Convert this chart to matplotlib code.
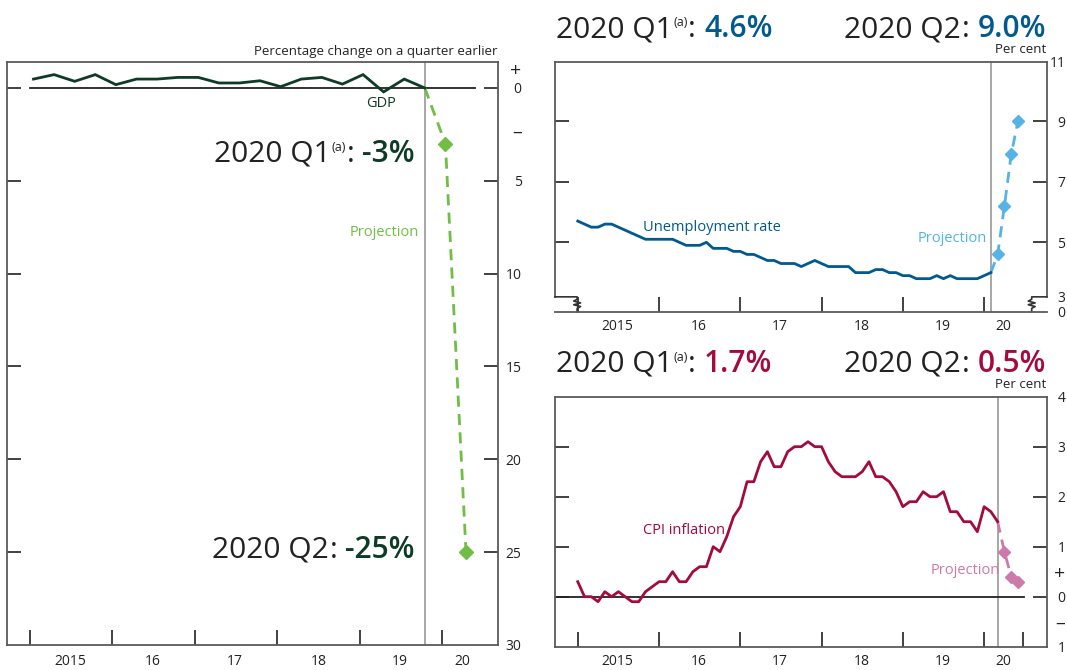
import matplotlib
matplotlib.use("Agg")
import matplotlib.pyplot as plt
import matplotlib.transforms as mtransforms
import numpy as np

plt.rcParams['font.family'] = ['Open Sans', 'DejaVu Sans']

# ---------------- data ----------------
gdp_quarters = [f'{y} Q{q}' for y in range(2015, 2020) for q in range(1, 5)]
gdp_growth = [0.48, 0.72, 0.36, 0.72, 0.18, 0.48, 0.48, 0.57, 0.57, 0.27,
              0.27, 0.39, 0.07, 0.48, 0.57, 0.21, 0.72, -0.21, 0.48, 0.0]
gdp_proj_quarters = ['2020 Q1', '2020 Q2']
gdp_proj = [-3.0, -25.0]

unemp_months = [f'{y}-{m:02d}' for y in range(2015, 2021) for m in range(1, 13)][:62]
unemp_rate = [5.7, 5.6, 5.5, 5.5, 5.6, 5.6, 5.5, 5.4, 5.3, 5.2, 5.1, 5.1,
              5.1, 5.1, 5.1, 5.0, 4.9, 4.9, 4.9, 5.0, 4.8, 4.8, 4.8, 4.7,
              4.7, 4.6, 4.6, 4.5, 4.4, 4.4, 4.3, 4.3, 4.3, 4.2, 4.3, 4.4,
              4.3, 4.2, 4.2, 4.2, 4.2, 4.0, 4.0, 4.0, 4.1, 4.1, 4.0, 4.0,
              3.9, 3.9, 3.8, 3.8, 3.8, 3.9, 3.8, 3.9, 3.8, 3.8, 3.8, 3.8,
              3.9, 4.0]
unemp_proj_months = ['2020-03', '2020-04', '2020-05', '2020-06']
unemp_proj = [4.6, 6.2, 7.9, 9.0]

cpi_months = [f'{y}-{m:02d}' for y in range(2015, 2021) for m in range(1, 13)][:63]
cpi_rate = [0.3, 0.0, 0.0, -0.1, 0.1, 0.0, 0.1, 0.0, -0.1, -0.1, 0.1, 0.2,
            0.3, 0.3, 0.5, 0.3, 0.3, 0.5, 0.6, 0.6, 1.0, 0.9, 1.2, 1.6,
            1.8, 2.3, 2.3, 2.7, 2.9, 2.6, 2.6, 2.9, 3.0, 3.0, 3.1, 3.0,
            3.0, 2.7, 2.5, 2.4, 2.4, 2.4, 2.5, 2.7, 2.4, 2.4, 2.3, 2.1,
            1.8, 1.9, 1.9, 2.1, 2.0, 2.0, 2.1, 1.7, 1.7, 1.5, 1.5, 1.3,
            1.8, 1.7, 1.5]
cpi_proj_months = ['2020-04', '2020-05', '2020-06']
cpi_proj = [0.9, 0.4, 0.3]

year_labels = ['2015', '16', '17', '18', '19', '20']


def qpos(labels):
    out = []
    for s in labels:
        y, q = s.split(' Q')
        out.append(int(y) + (int(q) - 1) / 4 + 1 / 24)
    return np.array(out)


def mpos(labels):
    out = []
    for s in labels:
        y, m = s.split('-')
        out.append(int(y) + (int(m) - 1) / 12)
    return np.array(out)


# ---------------- styling ----------------
C_TEXT = '#222222'
C_SPINE = '#5a5a5a'
C_TICK = '#333333'
C_VLINE = '#a0a0a0'
GDP_C = '#0d3b25'
GDP_P = '#72bd45'
UN_C = '#005a8f'
UN_P = '#55b3e5'
CPI_C = '#a50a3e'
CPI_P = '#cc7aa9'

W, H = 1067, 670
fig = plt.figure(figsize=(W / 100, H / 100), dpi=100)


def px_axes(x0, y0, x1, y1):
    return fig.add_axes([x0 / W, 1 - y1 / H, (x1 - x0) / W, (y1 - y0) / H])


def style_axes(ax, xlim, ylim, yticks, ylabels, hidden_ticks, lab_pos, ypad, xpad,
               extra_xticks=()):
    ax.set_xlim(*xlim)
    ax.set_ylim(*ylim)
    for s in ax.spines.values():
        s.set_color(C_SPINE)
        s.set_linewidth(1.3)
    ax.set_xticks(list(range(2015, 2021)) + list(extra_xticks))
    ax.set_xticklabels([])
    ax.set_xticks(lab_pos, minor=True)
    ax.set_xticklabels(year_labels, minor=True)
    ax.tick_params(axis='x', which='major', direction='in', length=11, width=1.3,
                   color=C_TICK, bottom=True, top=False)
    ax.tick_params(axis='x', which='minor', length=0, pad=xpad, labelsize=10,
                   labelcolor=C_TEXT)
    ax.set_yticks(yticks)
    ax.set_yticklabels(ylabels)
    ax.tick_params(axis='y', which='both', direction='in', length=10, width=1.3,
                   color=C_TICK, left=True, right=True, labelleft=False,
                   labelright=True, pad=ypad, labelsize=10, labelcolor=C_TEXT)
    ax.yaxis.set_minor_locator(matplotlib.ticker.NullLocator())
    for lab in ax.get_yticklabels():
        lab.set_horizontalalignment('right')
        if lab.get_text() in ('+', '\u2013'):
            lab.set_fontsize(14)
    for i, t in enumerate(ax.yaxis.get_major_ticks()):
        if i in hidden_ticks:
            t.tick1line.set_visible(False)
            t.tick2line.set_visible(False)


# ---------- GDP panel ----------
ax1 = px_axes(7, 62, 498, 645)
gdp_ticks = [1.0, 0, -2.3, -5, -10, -15, -20, -25, -30]
gdp_tl = ['+', '0', '\u2013', '5', '10', '15', '20', '25', '30']
style_axes(ax1, (2014.72, 2020.68), (-29.95, 1.4), gdp_ticks, gdp_tl,
           hidden_ticks={0, 2, 8},
           lab_pos=[2015.49, 2016.49, 2017.49, 2018.5, 2019.49, 2020.25],
           ypad=17.0, xpad=6.5)
ax1.plot([2015.0, 2020.40], [0, 0], color='#222222', lw=1.3, zorder=2)
gx = qpos(gdp_quarters)
gpx = qpos(gdp_proj_quarters)
ax1.axvline(gx[-1], color=C_VLINE, lw=1.3, zorder=1)
ax1.plot(gx, gdp_growth, color=GDP_C, lw=2.0, zorder=4, solid_joinstyle='miter')
ax1.plot(np.r_[gx[-1], gpx], np.r_[gdp_growth[-1], gdp_proj], color=GDP_P, lw=2.0,
         ls=(0, (4, 2.6)), zorder=3)
ax1.plot(gpx, gdp_proj, ls='none', marker='D', ms=7.5, color=GDP_P, zorder=5)
ax1.text(2019.26, -0.85, 'GDP', color=GDP_C, fontsize=10.5, ha='center', va='center')
ax1.text(2019.30, -7.8, 'Projection', color=GDP_P, fontsize=10.5, ha='center', va='center')

# ---------- Unemployment panel ----------
ax2 = px_axes(555, 61.7, 1046.7, 311.7)
un_ticks = [2.71, 3.2, 5, 7, 9, 10.96]
un_tl = ['0', '3', '5', '7', '9', '11']
lab_r = [2015.49, 2016.49, 2017.49, 2018.49, 2019.49, 2020.23]
style_axes(ax2, (2014.72, 2020.77), (2.71, 10.96), un_ticks, un_tl,
           hidden_ticks={0, 1, 5}, lab_pos=lab_r, ypad=13.5, xpad=5.0)
ax2.spines['left'].set_visible(False)
ax2.spines['right'].set_visible(False)
bt = mtransforms.blended_transform_factory(ax2.transAxes, ax2.transData)
ax2.plot([0, 0], [3.2, 10.96], color=C_SPINE, lw=1.3, transform=bt, clip_on=False)
ax2.plot([1, 1], [3.2, 10.96], color=C_SPINE, lw=1.3, transform=bt, clip_on=False)


def zig(xa, xb):
    a = 0.007
    ax2.plot([xa, xb, xb, xb - a, xb + a, xb - a, xb + a, xb, xb],
             [3.2, 3.2, 3.12, 3.06, 3.0, 2.94, 2.88, 2.82, 2.71],
             color=C_TICK, lw=1.2, transform=bt, clip_on=False)


zig(0, 0.045)
zig(1, 0.9695)

ux = mpos(unemp_months)
upx = mpos(unemp_proj_months)
ax2.axvline(ux[-1], color=C_VLINE, lw=1.3, zorder=1)
ax2.plot(ux, unemp_rate, color=UN_C, lw=2.0, zorder=4)
ax2.plot(np.r_[ux[-1], upx], np.r_[unemp_rate[-1], unemp_proj], color=UN_P, lw=2.0,
         ls=(0, (4, 2.6)), zorder=3)
ax2.plot(upx, unemp_proj, ls='none', marker='D', ms=6.5, color=UN_P, zorder=5)
ax2.text(2015.80, 5.5, 'Unemployment rate', color=UN_C, fontsize=10.5, ha='left', va='center')
ax2.text(2020.04, 5.13, 'Projection', color=UN_P, fontsize=10.5, ha='right', va='center')

# ---------- CPI panel ----------
ax3 = px_axes(555, 396.7, 1046.7, 646.7)
cpi_ticks = [-1, -0.5, 0, 0.5, 1, 2, 3, 4]
cpi_tl = ['1', '\u2013', '0', '+', '1', '2', '3', '4']
style_axes(ax3, (2014.72, 2020.77), (-1, 4), cpi_ticks, cpi_tl,
           hidden_ticks={0, 1, 3, 7}, lab_pos=lab_r, ypad=13.5, xpad=5.0,
           extra_xticks=[2020.48])
ax3.plot([2014.72, 2020.49], [0, 0], color='#222222', lw=1.3, zorder=2)
cx = mpos(cpi_months)
cpx = mpos(cpi_proj_months)
ax3.axvline(cx[-1], color=C_VLINE, lw=1.3, zorder=1)
ax3.plot(cx, cpi_rate, color=CPI_C, lw=2.0, zorder=4)
ax3.plot(np.r_[cx[-1], cpx], np.r_[cpi_rate[-1], cpi_proj], color=CPI_P, lw=2.0,
         ls=(0, (4, 2.6)), zorder=3)
ax3.plot(cpx, cpi_proj, ls='none', marker='D', ms=6.5, color=CPI_P, zorder=5)
ax3.text(2015.80, 1.32, 'CPI inflation', color=CPI_C, fontsize=10.5, ha='left', va='center')
ax3.text(2020.20, 0.53, 'Projection', color=CPI_P, fontsize=10.5, ha='right', va='center')

# ---------- headline texts ----------
fig.canvas.draw()
R = fig.canvas.get_renderer()


def rich(x, y, parts, ha='left'):
    objs = []
    for s, size, weight, color, dy, gap in parts:
        t = fig.text(0, 0, s, fontsize=size, fontweight=weight, color=color,
                     va='baseline', ha='left')
        objs.append((t, dy, gap))
    widths = [t.get_window_extent(R).width for t, _, _ in objs]
    total = sum(widths) + sum(g for _, _, g in objs)
    cxp = x - total if ha == 'right' else x
    for (t, dy, gap), w in zip(objs, widths):
        t.set_position((cxp / W, 1 - (y - dy) / H))
        cxp += w + gap


def headline(x, y, q, val, color, ha, sup=True):
    parts = [('2020 ' + q, 21.5, 'normal', C_TEXT, 0, 0.5)]
    if sup:
        parts.append(('(a)', 9, 'normal', C_TEXT, 11, 0.5))
    parts.append((':', 21.5, 'normal', C_TEXT, 0, 8))
    parts.append((val, 21.5, 'semibold', color, 0, 0))
    rich(x, y, parts, ha=ha)


headline(556, 37, 'Q1', '4.6%', UN_C, 'left')
headline(1046, 37, 'Q2', '9.0%', UN_C, 'right', sup=False)
headline(556, 372, 'Q1', '1.7%', CPI_C, 'left')
headline(1046, 372, 'Q2', '0.5%', CPI_C, 'right', sup=False)
headline(415, 162, 'Q1', '-3%', GDP_C, 'right')
headline(415, 558, 'Q2', '-25%', GDP_C, 'right', sup=False)

fig.text(497 / W, 1 - 55 / H, 'Percentage change on a quarter earlier', fontsize=9.5,
         color=C_TEXT, ha='right', va='baseline')
fig.text(1046 / W, 1 - 53 / H, 'Per cent', fontsize=9.5, color=C_TEXT, ha='right',
         va='baseline')
fig.text(1046 / W, 1 - 388 / H, 'Per cent', fontsize=9.5, color=C_TEXT, ha='right',
         va='baseline')

fig.savefig('out.png', dpi=100)
